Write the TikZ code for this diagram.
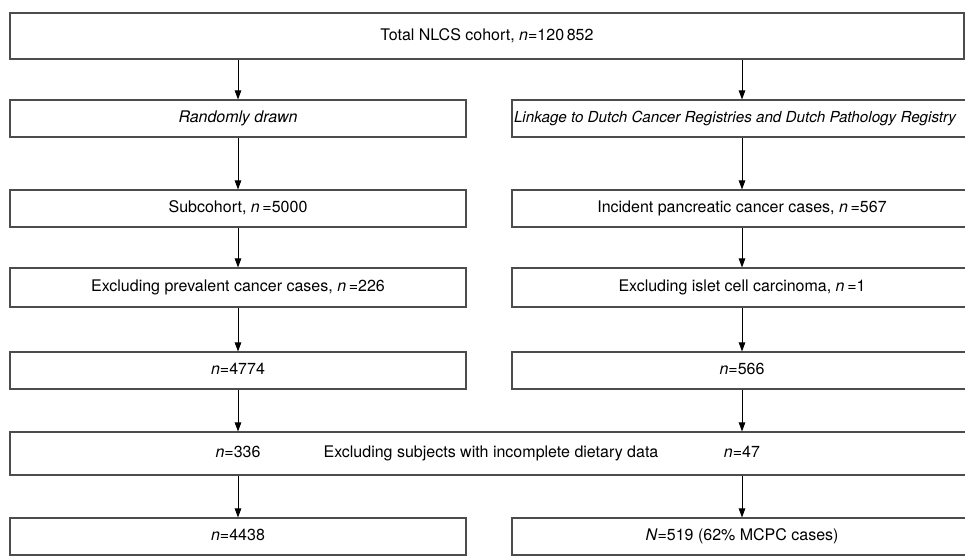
\documentclass[tikz,border=0pt]{standalone}
\usepackage{fontspec}
\setmainfont{TeX Gyre Heros}
\usetikzlibrary{arrows.meta}

\begin{document}
\begin{tikzpicture}[x=1pt,y=-1pt,
    lbl/.style={inner sep=0pt,font=\fontsize{16}{19}\selectfont,
      text height=11.5pt,text depth=3.5pt},
    box/.style={lbl,draw=black!70,line width=1.1pt,minimum height=37pt},
    lbox/.style={box,minimum width=456pt},
    rbox/.style={box,minimum width=460pt},
    arr/.style={-{Triangle[length=9pt,width=6.5pt]},line width=0.9pt}]
    \clip (0,0) rectangle (965,555);
    % cohort
    \node[box,minimum width=954pt,minimum height=46pt] (total) at (487,36)
      {Total NLCS cohort, \textit{n}=120\,852};
    % left branch
    \node[lbox] (rand) at (238,118.5) {\textit{Randomly drawn}};
    \node[lbox] (sub) at (238,208.5) {Subcohort, \textit{n}\,=5000};
    \node[lbox,minimum height=39pt] (prev) at (238,287.5)
      {Excluding prevalent cancer cases, \textit{n}\,=226};
    \node[lbox] (lrest) at (238,370.5) {\textit{n}=4774};
    % right branch
    \node[rbox,font=\fontsize{15.2}{18}\selectfont] (link) at (742,118.5)
      {\hbox to 460pt{\hskip2pt\textit{Linkage to Dutch Cancer Registries and Dutch Pathology Registry}\hss}};
    \node[rbox] (inc) at (742,208.5) {Incident pancreatic cancer cases, \textit{n}\,=567};
    \node[rbox,minimum height=39pt] (islet) at (742,287.5)
      {Excluding islet cell carcinoma, \textit{n}\,=1};
    \node[rbox] (rrest) at (742,370.5) {\textit{n}=566};
    % dietary data
    \node[box,minimum width=962pt,minimum height=43pt] (diet) at (491,453.5)
      {Excluding subjects with incomplete dietary data};
    \node[lbl] (dl) at (238,453.5) {\textit{n}=336};
    \node[lbl] (dr) at (742,453.5) {\textit{n}=47};
    \node[lbox] (lfin) at (238,536.5) {\textit{n}=4438};
    \node[rbox] (rfin) at (742,536.5) {\textit{N}=519 (62\% MCPC cases)};
    % arrows
    \draw[arr] (total.south -| rand.north) -- (rand.north);
    \draw[arr] (total.south -| link.north) -- (link.north);
    \draw[arr] (rand) -- (sub);
    \draw[arr] (sub) -- (prev);
    \draw[arr] (prev) -- (lrest);
    \draw[arr] (link) -- (inc);
    \draw[arr] (inc) -- (islet);
    \draw[arr] (islet) -- (rrest);
    \draw[arr] (lrest) -- (diet.north -| lrest.south);
    \draw[arr] (rrest) -- (diet.north -| rrest.south);
    \draw[arr] (diet.south -| lfin.north) -- (lfin);
    \draw[arr] (diet.south -| rfin.north) -- (rfin);
\end{tikzpicture}
\end{document}
